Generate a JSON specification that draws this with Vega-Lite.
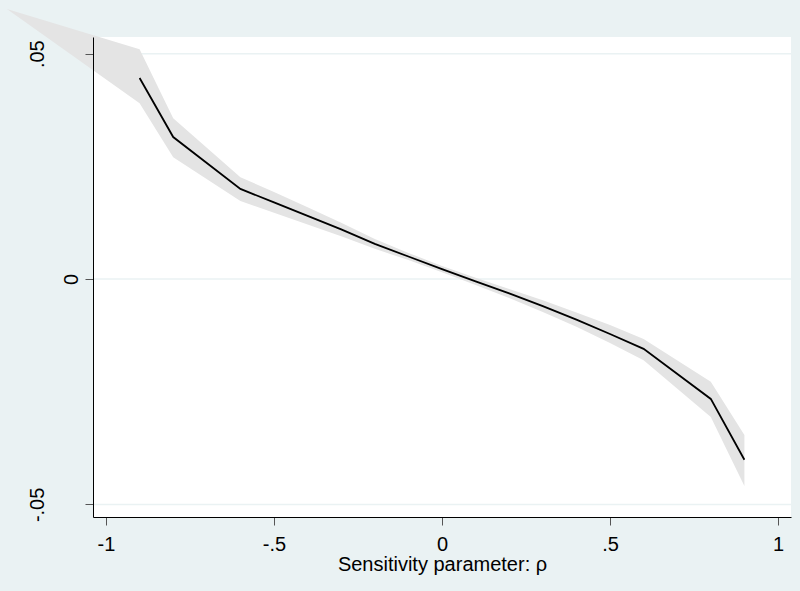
{
  "$schema": "https://vega.github.io/schema/vega-lite/v6.json",
  "autosize": {"type": "none"},
  "width": 698,
  "height": 480,
  "padding": {"left": 93, "top": 37, "right": 9, "bottom": 74},
  "background": "#EAF2F3",
  "config": {
    "view": {"stroke": null, "fill": "white"},
    "font": "Liberation Sans"
  },
  "datasets": {
    "est": [
      {"rho": -1.295, "est": null, "lo": 0.0599, "hi": 0.0599},
      {"rho": -0.9, "est": 0.0446, "lo": 0.0390, "hi": 0.0510},
      {"rho": -0.8, "est": 0.0315, "lo": 0.0270, "hi": 0.0357},
      {"rho": -0.6, "est": 0.0200, "lo": 0.0173, "hi": 0.0226},
      {"rho": -0.5, "est": 0.0170, "lo": 0.0147, "hi": 0.0193},
      {"rho": -0.4, "est": 0.0140, "lo": 0.0121, "hi": 0.0159},
      {"rho": -0.3, "est": 0.0110, "lo": 0.0095, "hi": 0.0125},
      {"rho": -0.2, "est": 0.0078, "lo": 0.0067, "hi": 0.0089},
      {"rho": -0.1, "est": 0.0050, "lo": 0.0042, "hi": 0.0058},
      {"rho": 0.0, "est": 0.0022, "lo": 0.0015, "hi": 0.0029},
      {"rho": 0.1, "est": -0.0005, "lo": -0.0013, "hi": 0.0003},
      {"rho": 0.2, "est": -0.0032, "lo": -0.0042, "hi": -0.0022},
      {"rho": 0.3, "est": -0.0060, "lo": -0.0073, "hi": -0.0047},
      {"rho": 0.4, "est": -0.0090, "lo": -0.0106, "hi": -0.0074},
      {"rho": 0.5, "est": -0.0122, "lo": -0.0142, "hi": -0.0102},
      {"rho": 0.6, "est": -0.0155, "lo": -0.0180, "hi": -0.0133},
      {"rho": 0.8, "est": -0.0266, "lo": -0.0306, "hi": -0.0228},
      {"rho": 0.9, "est": -0.0401, "lo": -0.0459, "hi": -0.0346}
    ],
    "grid": [{"g": -0.05}, {"g": 0}, {"g": 0.05}]
  },
  "resolve": {"axis": {"y": "independent"}},
  "layer": [
    {
      "data": {"name": "grid"},
      "mark": {"type": "rule", "color": "#EAF2F3", "strokeWidth": 1.5},
      "encoding": {
        "y": {
          "field": "g", "type": "quantitative",
          "scale": {"domain": [-0.0528, 0.0537], "nice": false, "zero": false},
          "axis": {
            "orient": "left",
            "values": [-0.05, 0.05],
            "labelExpr": "datum.value > 0 ? '.05' : '-.05'",
            "grid": false, "domain": false,
            "ticks": true, "tickSize": 8, "tickColor": "transparent",
            "labelFont": "Liberation Sans", "labelFontSize": 20, "labelColor": "black",
            "labelAngle": 270, "labelAlign": "center", "labelBaseline": "alphabetic",
            "labelPadding": 42, "labelFlush": false, "labelOverlap": false,
            "title": null, "zindex": 2
          }
        }
      }
    },
    {
      "data": {"name": "est"},
      "mark": {"type": "area", "color": "#E4E4E4", "opacity": 1, "clip": false},
      "encoding": {
        "x": {
          "field": "rho", "type": "quantitative",
          "scale": {"domain": [-1.0387, 1.0387], "nice": false, "zero": false},
          "axis": {
            "values": [-1, -0.5, 0, 0.5, 1],
            "labelExpr": "datum.value == 0.5 ? '.5' : datum.value == -0.5 ? '-.5' : toString(datum.value)",
            "grid": false,
            "domainColor": "black", "domainWidth": 1,
            "tickColor": "#555555", "tickSize": 8, "tickWidth": 1,
            "labelFont": "Liberation Sans", "labelFontSize": 20, "labelColor": "black",
            "labelPadding": 9, "labelFlush": false, "labelOverlap": false,
            "title": "Sensitivity parameter: ρ",
            "titleFont": "Liberation Sans", "titleFontSize": 20, "titleFontWeight": "normal",
            "titleColor": "black", "titleBaseline": "alphabetic", "titleY": 53,
            "zindex": 1
          }
        },
        "y": {
          "field": "lo", "type": "quantitative",
          "scale": {"domain": [-0.0528, 0.0537], "nice": false, "zero": false},
          "axis": {
            "orient": "left",
            "values": [-0.05, 0, 0.05],
            "labelExpr": "datum.value == 0 ? '0' : ''",
            "grid": false,
            "domainColor": "black", "domainWidth": 1,
            "tickColor": "#555555", "tickSize": 8, "tickWidth": 1,
            "labelFont": "Liberation Sans", "labelFontSize": 20, "labelColor": "black",
            "labelAngle": 270, "labelAlign": "center", "labelBaseline": "alphabetic",
            "labelPadding": 8, "labelFlush": false, "labelOverlap": false,
            "title": null, "zindex": 1
          }
        },
        "y2": {"field": "hi"}
      }
    },
    {
      "data": {"name": "est"},
      "mark": {"type": "line", "color": "black", "strokeWidth": 1.8},
      "encoding": {
        "x": {"field": "rho", "type": "quantitative", "scale": {"domain": [-1.0387, 1.0387], "nice": false, "zero": false}},
        "y": {"field": "est", "type": "quantitative", "scale": {"domain": [-0.0528, 0.0537], "nice": false, "zero": false}, "axis": null}
      }
    }
  ]
}
